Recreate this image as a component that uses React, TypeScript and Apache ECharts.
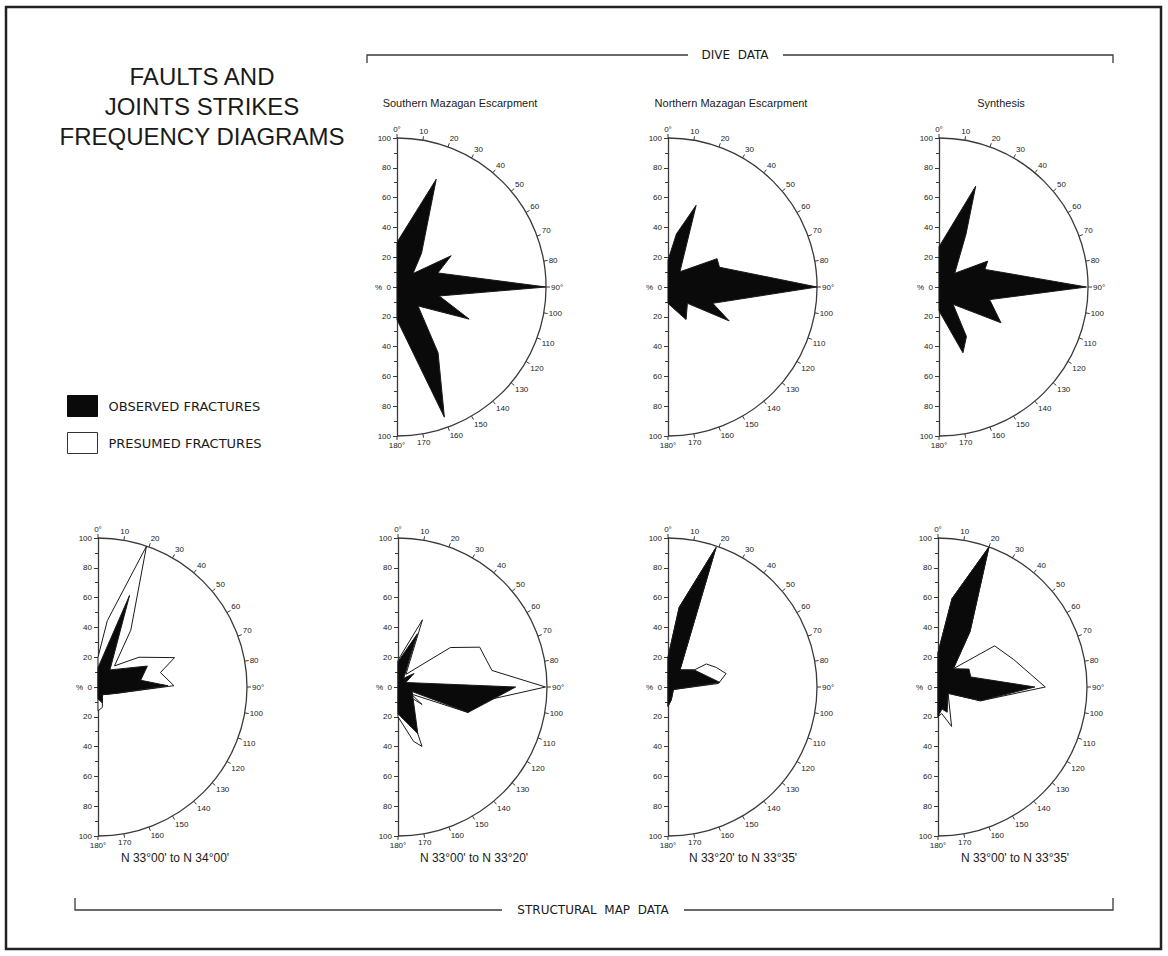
import { useEffect, useRef } from 'react';
import * as echarts from 'echarts';

// Each vertex is [strike direction in degrees (0 = N, clockwise), frequency in %].
type Vertex = [number, number];

const diveTitles = ['Southern Mazagan Escarpment', 'Northern Mazagan Escarpment', 'Synthesis'];
const mapTitles = ["N 33°00' to N 34°00'", "N 33°00' to N 33°20'", "N 33°20' to N 33°35'", "N 33°00' to N 33°35'"];

// Dive data: observed fractures only
const southernObserved: Vertex[] = [
  [0, 30], [20, 77], [36, 28], [50, 14], [60, 42], [71, 29], [90, 100], [102, 29],
  [114, 53], [132, 19], [148, 52], [160, 93], [180, 22],
];
const northernObserved: Vertex[] = [
  [0, 18], [9, 36], [19, 58], [38, 13], [60, 38], [69, 37], [90, 100], [110, 32],
  [119, 47], [130, 17], [151, 25], [180, 11],
];
const synthesisObserved: Vertex[] = [
  [0, 27], [20, 72], [27, 40], [49, 14], [62, 37], [69, 33], [90, 99], [104, 35],
  [120, 48], [141, 15], [151, 38], [160, 47], [180, 16],
];

// Structural map data: observed and presumed fractures
const map3400Observed: Vertex[] = [
  [0, 13], [19, 65], [35, 14], [67, 36], [81, 29], [89, 47], [107, 14], [150, 6], [165, 11], [180, 8],
];
const map3400Presumed: Vertex[] = [
  [0, 20], [8, 45], [19, 100], [30, 44], [38, 18], [54, 34], [69, 55], [77, 43], [89, 51],
  [107, 14], [150, 6], [168, 14], [180, 16],
];
const map3320Observed: Vertex[] = [
  [0, 17], [20, 38], [33, 7], [50, 14], [60, 6], [90, 79], [110, 50], [108, 10], [157, 34], [180, 18],
];
const map3320Presumed: Vertex[] = [
  [0, 18], [20, 48], [32, 10], [53, 44], [64, 61], [80, 64], [90, 99], [101, 54], [110, 50],
  [118, 10], [126, 20], [135, 6], [158, 43], [164, 38], [180, 20],
];
const map3335aObserved: Vertex[] = [
  [0, 20], [8, 54], [19, 99], [35, 14], [57, 21], [85, 35], [115, 4], [166, 9], [180, 13],
];
const map3335aPresumed: Vertex[] = [
  [0, 20], [8, 54], [19, 99], [35, 14], [57, 21], [59, 30], [68, 35], [77, 40], [86, 34],
  [115, 4], [166, 9], [180, 13],
];
const map3335bObserved: Vertex[] = [
  [0, 23], [9, 60], [20, 100], [30, 43], [40, 16], [60, 24], [73, 23], [90, 65], [108, 30],
  [122, 8], [160, 18], [170, 15], [180, 20],
];
const map3335bPresumed: Vertex[] = [
  [0, 23], [9, 60], [20, 100], [30, 43], [40, 16], [54, 47], [70, 54], [90, 72], [92, 62],
  [108, 30], [122, 8], [161, 28], [172, 18], [180, 20],
];

const OBSERVED = 'OBSERVED FRACTURES';
const PRESUMED = 'PRESUMED FRACTURES';
const INK = '#1a1a1a';
const LINE = '#3a3a3a';
const FONT = '"Liberation Sans", Arial, sans-serif';
const R = 149;

type Panel = {
  cx: number;
  cy: number;
  title: string;
  titleX: number;
  titleY: number;
  observed: Vertex[];
  presumed?: Vertex[];
};

const panels: Panel[] = [
  { cx: 397, cy: 287, title: diveTitles[0], titleX: 460, titleY: 103, observed: southernObserved },
  { cx: 668, cy: 287, title: diveTitles[1], titleX: 731, titleY: 103, observed: northernObserved },
  { cx: 939, cy: 287, title: diveTitles[2], titleX: 1001, titleY: 103, observed: synthesisObserved },
  { cx: 98, cy: 687, title: mapTitles[0], titleX: 175, titleY: 858, observed: map3400Observed, presumed: map3400Presumed },
  { cx: 398, cy: 687, title: mapTitles[1], titleX: 474, titleY: 858, observed: map3320Observed, presumed: map3320Presumed },
  { cx: 668, cy: 687, title: mapTitles[2], titleX: 743, titleY: 858, observed: map3335aObserved, presumed: map3335aPresumed },
  { cx: 938, cy: 687, title: mapTitles[3], titleX: 1015, titleY: 858, observed: map3335bObserved, presumed: map3335bPresumed },
];

// One closed polygon per rose, drawn through the polar coordinate system.
function roseSeries(name: string, polarIndex: number, pts: Vertex[], fill: string, z: number) {
  return {
    type: 'custom',
    name,
    coordinateSystem: 'polar',
    polarIndex,
    silent: true,
    z,
    data: pts.map(([a, v]) => [v, a]),
    renderItem: (params: any, api: any) => {
      if (params.dataIndex !== 0) return null;
      const points = pts.map(([a, v]) => api.coord([v, a]));
      return {
        type: 'polygon',
        shape: { points },
        style: { fill, stroke: INK, lineWidth: 1, lineJoin: 'miter' },
      };
    },
  };
}

function buildOption() {
  const series: any[] = [];
  panels.forEach((p, i) => {
    if (p.presumed) series.push(roseSeries(PRESUMED, i, p.presumed, '#ffffff', 2));
    series.push(roseSeries(OBSERVED, i, p.observed, '#0a0a0a', 3));
  });

  const text = (t: string, x: number, y: number, size: number, family = FONT) => ({
    type: 'text',
    x,
    y,
    silent: true,
    style: {
      text: t,
      font: `${size}px ${family}`,
      fill: INK,
      align: 'center',
      verticalAlign: 'middle',
      lineHeight: Math.round(size * 1.25),
    },
  });

  const bracketStyle = { stroke: LINE, lineWidth: 1.3, fill: 'none' };

  const graphic: any[] = [
    {
      type: 'rect',
      shape: { x: 6, y: 7, width: 1155, height: 942 },
      style: { fill: 'none', stroke: '#222', lineWidth: 2.5 },
      silent: true,
    },
    text('FAULTS AND\nJOINTS STRIKES\nFREQUENCY DIAGRAMS', 202, 106, 24),
    { type: 'polyline', shape: { points: [[367, 63], [367, 55], [688, 55]] }, style: bracketStyle, silent: true },
    { type: 'polyline', shape: { points: [[783, 55], [1113, 55], [1113, 63]] }, style: bracketStyle, silent: true },
    text('DIVE  DATA', 735, 55, 12, '"DejaVu Sans", sans-serif'),
    { type: 'polyline', shape: { points: [[75, 898], [75, 910], [502, 910]] }, style: bracketStyle, silent: true },
    { type: 'polyline', shape: { points: [[684, 910], [1113, 910], [1113, 898]] }, style: bracketStyle, silent: true },
    text('STRUCTURAL  MAP  DATA', 593, 910, 12, '"DejaVu Sans", sans-serif'),
    ...panels.map((p) => text(p.title, p.titleX, p.titleY, p.presumed ? 12 : 11)),
  ];

  return {
    animation: false,
    backgroundColor: '#ffffff',
    textStyle: { fontFamily: FONT, color: INK },
    polar: panels.map((p) => ({ center: [p.cx, p.cy], radius: R })),
    angleAxis: panels.map((_, i) => ({
      polarIndex: i,
      type: 'value',
      min: 0,
      max: 180,
      interval: 10,
      startAngle: 90,
      endAngle: -90,
      clockwise: true,
      axisLine: { lineStyle: { color: LINE, width: 1.3 } },
      axisTick: { show: true, length: 4, lineStyle: { color: LINE, width: 1 } },
      axisLabel: {
        fontSize: 8,
        color: INK,
        margin: 5,
        formatter: (v: number) => (v % 90 === 0 ? `${v}°` : String(v)),
      },
      splitLine: { show: false },
      splitArea: { show: false },
    })),
    radiusAxis: panels.map((_, i) => ({
      polarIndex: i,
      type: 'value',
      min: 0,
      max: 100,
      show: false,
      splitLine: { show: false },
    })),
    grid: panels.map((p) => ({ left: p.cx, top: p.cy - R, width: 1, height: 2 * R })),
    xAxis: panels.map((_, i) => ({ gridIndex: i, type: 'value', min: 0, max: 1, show: false })),
    yAxis: panels.map((_, i) => ({
      gridIndex: i,
      type: 'value',
      min: -100,
      max: 100,
      interval: 20,
      axisLine: { show: true, lineStyle: { color: LINE, width: 1.3 } },
      axisTick: { show: true, length: 4, lineStyle: { color: LINE } },
      minorTick: { show: true, splitNumber: 2, length: 3, lineStyle: { color: LINE } },
      splitLine: { show: false },
      minorSplitLine: { show: false },
      axisLabel: {
        fontSize: 8,
        color: INK,
        margin: 6,
        formatter: (v: number) => (v === 0 ? '%  0' : String(Math.abs(v))),
      },
    })),
    legend: {
      left: 67,
      top: 395,
      orient: 'vertical',
      itemWidth: 30,
      itemHeight: 21,
      itemGap: 15,
      padding: 0,
      selectedMode: false,
      textStyle: { fontSize: 13, color: INK, fontFamily: '"DejaVu Sans", sans-serif', padding: [0, 0, 0, 6] },
      data: [
        { name: OBSERVED, icon: 'rect', itemStyle: { color: '#0a0a0a', borderColor: '#0a0a0a', borderWidth: 1 } },
        { name: PRESUMED, icon: 'rect', itemStyle: { color: '#ffffff', borderColor: '#333', borderWidth: 1 } },
      ],
    },
    series,
    graphic,
  };
}

export default function App() {
  const ref = useRef<HTMLDivElement>(null);
  useEffect(() => {
    if (!ref.current) return;
    const chart = echarts.init(ref.current, undefined, { renderer: 'svg' });
    chart.setOption(buildOption() as any);
    return () => chart.dispose();
  }, []);
  return (
    <div
      ref={ref}
      style={{ position: 'absolute', left: 0, top: 0, width: 1168, height: 956, background: '#fff' }}
    />
  );
}
